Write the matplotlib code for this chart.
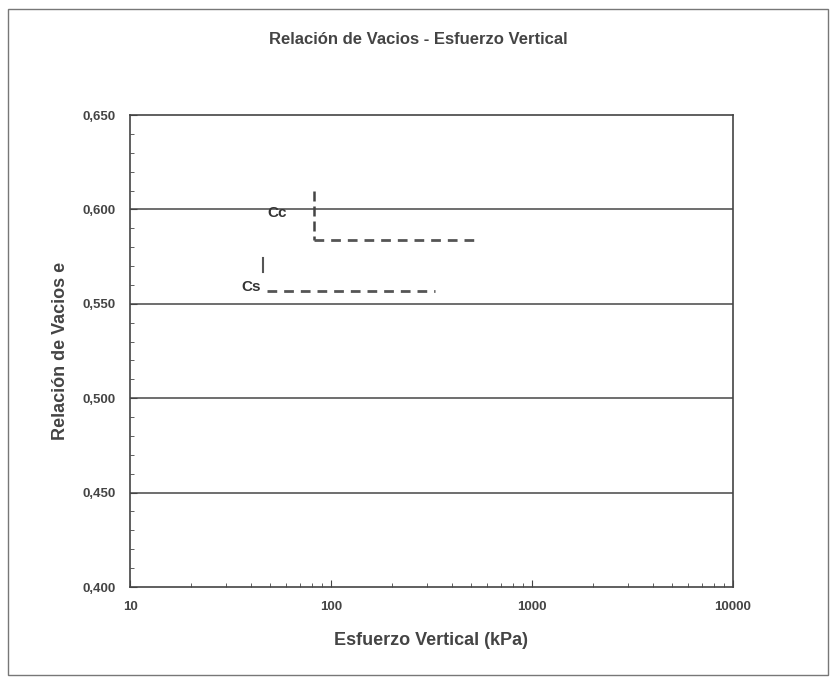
import matplotlib.pyplot as plt
from matplotlib.ticker import FuncFormatter, MultipleLocator, LogLocator, NullFormatter
from matplotlib.patches import Rectangle

plt.rcParams['font.family'] = ['Liberation Sans', 'DejaVu Sans']

# datos
y_ticks = [0.400, 0.450, 0.500, 0.550, 0.600, 0.650]
x_ticks = [10, 100, 1000, 10000]
cc_x = [82, 82, 540]
cc_y = [0.610, 0.584, 0.584]
cs_x = [48, 330]
cs_y = [0.557, 0.557]
cs_tick_y = [0.574, 0.567]

fig = plt.figure(figsize=(8.36, 6.83), dpi=100)
fig.patches.append(Rectangle((0.010, 0.012), 0.980, 0.975, transform=fig.transFigure,
                             fill=False, edgecolor='#777777', linewidth=1.0))
ax = fig.add_axes([130/836, 1-587/683, (733-130)/836, (587-115)/683])

ax.set_xscale('log')
ax.set_xlim(10, 10000)
ax.set_ylim(0.4, 0.65)

for y in y_ticks[1:-1]:
    ax.axhline(y, color='#555555', linewidth=1.2, zorder=1)

# Cc
ax.plot([cc_x[0], cc_x[1]], [cc_y[0], cc_y[1]], color='#444444', linewidth=1.8, linestyle=(0, (4, 2)))
ax.plot(cc_x[1:], cc_y[1:], color='#555555', linewidth=2.0, linestyle=(0, (3.5, 2.5)))
ax.text(60, 0.598, 'Cc', fontsize=11, fontweight='bold', color='#333333', ha='right', va='center')
# Cs
ax.plot(cs_x, cs_y, color='#555555', linewidth=2.0, linestyle=(0, (3.5, 2.5)))
ax.plot([46, 46], cs_tick_y, color='#555555', linewidth=1.5)
ax.text(45, 0.559, 'Cs', fontsize=11, fontweight='bold', color='#333333', ha='right', va='center')

ax.set_yticks(y_ticks)
ax.yaxis.set_major_formatter(FuncFormatter(lambda v, p: ('%.3f' % v).replace('.', ',')))
ax.yaxis.set_minor_locator(MultipleLocator(0.01))
ax.set_xticks(x_ticks)
ax.xaxis.set_major_formatter(FuncFormatter(lambda v, p: '%d' % v))
ax.xaxis.set_minor_locator(LogLocator(base=10, subs=range(2, 10)))
ax.xaxis.set_minor_formatter(NullFormatter())
ax.tick_params(which='both', direction='in', color='#444444')
ax.tick_params(which='major', length=5, labelsize=9.5, labelcolor='#444444', pad=10)
ax.tick_params(which='minor', length=3)
for lbl in ax.get_xticklabels() + ax.get_yticklabels():
    lbl.set_fontweight('bold')
for s in ax.spines.values():
    s.set_color('#444444')
    s.set_linewidth(1.2)

ax.set_xlabel('Esfuerzo Vertical (kPa)', fontsize=13, fontweight='bold', color='#444444', labelpad=14)
ax.set_ylabel('Relación de Vacios e', fontsize=13, fontweight='bold', color='#444444', labelpad=10)
fig.text(0.5, 1-40/683, 'Relación de Vacios - Esfuerzo Vertical', ha='center', va='center',
         fontsize=12, fontweight='bold', color='#444444')

plt.savefig('out.png', dpi=100)
